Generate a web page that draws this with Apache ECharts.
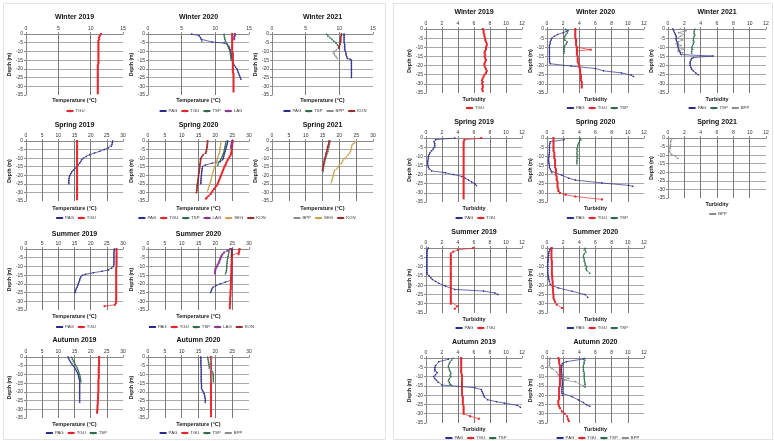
<!DOCTYPE html>
<html><head><meta charset="utf-8">
<script src="https://cdn.jsdelivr.net/npm/echarts@6/dist/echarts.min.js"></script>
<style>html,body{margin:0;padding:0;background:#fff}#c{width:774px;height:441px}</style>
</head><body><div id="c"></div>
<script>
// ===== Temperature data: [value, depth] =====
const tW19_TGU=[[11.6,0],[11.4,-1],[11.3,-2],[11.3,-3],[11.2,-4],[11.2,-5],[11.2,-6],[11.2,-7],[11.2,-8],[11.2,-9],[11.2,-10],[11.2,-11],[11.2,-12],[11.2,-13],[11.2,-14],[11.2,-15],[11.2,-16],[11.2,-17],[11.1,-18],[11.1,-19],[11.1,-20],[11.1,-21],[11.1,-22],[11.1,-23],[11.1,-24],[11.1,-25],[11.1,-26],[11.1,-27],[11.1,-28],[11.1,-29],[11.1,-30],[11.1,-31],[11.1,-32],[11.1,-33],[11.1,-34]];
const tW20_PAG=[[6.5,0],[7.6,-1],[7.8,-2],[7.9,-3],[8.0,-4],[9.5,-4.6],[11.3,-5.2],[11.8,-6],[12.0,-7],[12.1,-8],[12.2,-9],[12.3,-10],[12.3,-11],[12.4,-12],[12.4,-13],[12.5,-14],[12.5,-15],[12.6,-16],[12.7,-17],[12.8,-18],[13.0,-19],[13.2,-20],[13.3,-21],[13.4,-22],[13.5,-23],[13.6,-24],[13.7,-25],[13.8,-26]];
const tW20_TGU=[[12.5,0],[12.5,-1],[12.5,-2],[12.5,-3],[12.5,-4],[12.5,-5],[12.5,-6],[12.5,-7],[12.5,-8],[12.5,-9],[12.5,-10],[12.6,-11],[12.6,-12],[12.6,-13],[12.6,-14],[12.6,-15],[12.6,-16],[12.6,-17],[12.6,-18],[12.6,-19],[12.6,-20],[12.6,-21],[12.6,-22],[12.7,-23],[12.7,-24],[12.7,-25],[12.7,-26],[12.7,-27],[12.7,-28],[12.7,-29],[12.7,-30],[12.7,-31],[12.7,-32],[12.7,-33]];
const tW20_TSP=[[11.3,0],[11.3,-1],[11.4,-2],[11.4,-3],[11.5,-4],[11.7,-5],[11.8,-6],[11.9,-7],[12.0,-8],[12.1,-9],[12.2,-10],[12.2,-11],[12.3,-12],[12.3,-13],[12.3,-14],[12.4,-15]];
const tW20_LAG=[[12.9,0],[12.9,-1],[12.8,-2],[12.8,-3]];
const tW21_PAG=[[10.7,0],[10.7,-1],[10.7,-2],[10.7,-3],[10.7,-4],[10.7,-5],[10.8,-6],[10.8,-7],[10.8,-8],[10.8,-9],[10.9,-10],[11.0,-11],[11.0,-12],[11.1,-13],[11.2,-14],[11.6,-14.5],[11.8,-15],[11.8,-16],[11.8,-17],[11.8,-18],[11.8,-19],[11.8,-20],[11.8,-21],[11.8,-22],[11.8,-23],[11.8,-24],[11.8,-25]];
const tW21_TSP=[[8.1,0],[8.3,-1],[8.6,-2],[8.9,-3],[9.2,-4],[9.5,-5],[9.7,-6],[9.9,-7],[10.0,-8]];
const tW21_BPP=[[9.6,-9],[9.2,-10],[9.1,-11],[9.3,-12],[9.5,-13],[9.7,-14]];
const tW21_KON=[[10.3,0],[10.3,-1],[10.2,-2],[10.2,-3],[10.2,-4],[10.1,-5],[10.1,-6],[10.0,-7],[9.9,-8]];
const tSp19_PAG=[[26.8,0],[26.7,-1],[26.6,-2],[26.4,-3],[25.5,-4],[24.2,-5],[22.8,-6],[21.2,-7],[19.7,-8],[18.6,-9],[17.7,-10],[17.2,-11],[16.9,-12],[16.6,-13],[16.1,-14],[15.6,-15],[15.1,-16],[14.6,-17],[14.2,-18],[13.9,-19],[13.6,-20],[13.4,-21],[13.3,-22],[13.3,-23],[13.2,-24],[13.3,-25]];
const tSp19_TGU=[[15.8,0],[15.8,-1],[15.8,-2],[15.8,-3],[15.8,-4],[15.8,-5],[15.8,-6],[15.8,-7],[15.8,-8],[15.8,-9],[15.8,-10],[15.8,-11],[15.8,-12],[15.8,-13],[15.8,-14],[15.8,-15],[15.8,-16],[15.8,-17],[15.8,-18],[15.8,-19],[15.8,-20],[15.8,-21],[15.8,-22],[15.8,-23],[15.8,-24],[15.8,-25],[15.8,-26],[15.8,-27],[15.8,-28],[15.8,-29],[15.8,-30],[15.8,-31],[15.8,-32],[15.8,-33],[15.8,-34]];
const tSp20_PAG=[[23.7,0],[23.6,-1],[23.5,-2],[23.3,-3],[23.2,-4],[23.1,-5],[22.9,-6],[22.8,-7],[22.6,-8],[22.5,-9],[22.4,-10],[22.2,-11],[21.5,-12],[19.0,-13],[17.0,-14],[16.2,-15],[16.1,-16],[16.0,-17],[16.0,-18],[15.9,-19],[15.9,-20],[15.8,-21],[15.8,-22],[15.7,-23],[15.7,-24],[15.7,-25]];
const tSp20_TGU=[[25.2,0],[25.1,-1],[25.0,-2],[25.0,-3],[24.9,-4],[24.9,-5],[24.8,-6],[24.7,-7],[24.6,-8],[24.3,-9],[24.0,-10],[23.7,-11],[23.4,-12],[23.2,-13],[23.0,-14],[22.7,-15],[22.5,-16],[22.3,-17],[22.1,-18],[21.9,-19],[21.7,-20],[21.5,-21],[21.3,-22],[21.1,-23],[20.9,-24],[20.7,-25],[20.4,-26],[20.0,-27],[19.6,-28],[19.2,-29],[18.9,-30],[18.6,-31],[18.0,-32],[17.5,-33],[17.2,-33.6]];
const tSp20_TSP=[[23.2,0],[23.1,-1],[23.0,-2],[22.9,-3],[22.8,-4],[22.7,-5],[22.6,-6],[22.4,-7],[22.2,-8],[22.0,-9],[21.8,-10],[21.5,-11],[21.2,-12],[20.9,-13],[20.7,-14]];
const tSp20_LAG=[[25.0,0],[24.9,-1],[24.8,-2],[24.7,-3],[24.7,-4]];
const tSp20_SEG=[[21.7,0],[21.6,-1],[21.6,-2],[21.5,-3],[21.4,-4],[21.4,-5],[21.3,-6],[21.2,-7],[21.0,-8],[20.8,-9],[20.6,-10],[20.5,-11],[20.3,-12],[20.2,-13],[20.0,-14],[19.8,-15],[19.6,-16],[19.4,-17],[19.3,-18],[19.2,-19],[19.0,-20],[18.9,-21],[18.8,-22],[18.7,-23],[18.5,-24],[18.4,-25],[18.2,-26],[18.0,-27],[17.9,-28],[17.7,-29]];
const tSp20_KON=[[17.7,0],[17.7,-1],[17.6,-2],[17.6,-3],[17.5,-4],[17.4,-5],[17.3,-6],[17.2,-7],[16.4,-8],[16.0,-9],[15.7,-10],[15.6,-11],[15.6,-12],[15.5,-13],[15.4,-14],[15.4,-15],[15.3,-16],[15.2,-17],[15.2,-18],[15.1,-19],[15.0,-20],[15.0,-21],[14.9,-22],[14.8,-23],[14.8,-24],[14.7,-25],[14.6,-26],[14.6,-27],[14.5,-28],[14.5,-29],[14.4,-30]];
const tSp21_BPP=[[17.3,0],[17.2,-1],[17.1,-2],[17.0,-3],[16.9,-4],[16.8,-5],[16.7,-6],[16.5,-7],[16.3,-8],[16.1,-9],[16.0,-10],[15.8,-11],[15.7,-12],[15.6,-13],[15.4,-14],[15.3,-15],[15.3,-16],[15.2,-17],[15.2,-18]];
const tSp21_SEG=[[25.1,0],[24.5,-1],[24.1,-1.5],[23.8,-2],[23.6,-3],[23.6,-4],[23.5,-5],[23.3,-6],[23.0,-7],[22.6,-8],[22.1,-9],[21.6,-10],[21.1,-11],[20.9,-12],[20.6,-13],[20.0,-14],[19.6,-15],[19.3,-16],[18.6,-17],[18.4,-18],[18.3,-19],[18.2,-20],[18.0,-21],[17.9,-22],[17.8,-23],[17.6,-24]];
const tSp21_KON=[[17.0,0],[16.9,-1],[16.8,-2],[16.6,-3],[16.5,-4],[16.4,-5],[16.3,-6],[16.1,-7],[16.0,-8],[15.9,-9],[15.7,-10],[15.6,-11],[15.5,-12],[15.4,-13],[15.3,-14],[15.2,-15],[15.1,-16],[15.0,-17]];
const tSu19_PAG=[[27.3,0],[27.3,-1],[27.2,-2],[27.2,-3],[27.2,-4],[27.2,-5],[27.2,-6],[27.2,-7],[27.2,-8],[27.2,-9],[27.0,-10],[26.5,-11],[25.5,-12],[23.5,-12.8],[20.8,-13.6],[18.5,-14.5],[17.5,-15],[16.9,-16],[16.7,-17],[16.6,-18],[16.4,-19],[16.2,-20],[16.0,-21],[15.8,-22],[15.5,-23],[15.3,-24],[15.2,-25]];
const tSu19_TGU=[[28.0,0],[28.0,-1],[28.0,-2],[28.0,-3],[28.0,-4],[28.0,-5],[28.0,-6],[28.0,-7],[28.0,-8],[28.0,-9],[28.0,-10],[27.9,-11],[27.9,-12],[27.9,-13],[27.9,-14],[27.9,-15],[27.9,-16],[27.9,-17],[27.9,-18],[27.9,-19],[27.9,-20],[27.9,-21],[27.9,-22],[27.9,-23],[27.9,-24],[27.9,-25],[27.9,-26],[27.9,-27],[27.9,-28],[27.9,-29],[27.9,-30],[27.8,-31],[27.5,-32],[24.3,-32.8]];
const tSu20_PAG=[[24.8,0],[24.8,-1],[24.8,-2],[24.8,-3],[24.8,-4],[24.8,-5],[24.8,-6],[24.8,-7],[24.8,-8],[24.8,-9],[24.8,-10],[24.8,-11],[24.8,-12],[24.8,-13],[24.8,-14],[24.8,-15],[24.8,-16],[24.7,-17],[24.6,-18],[23.0,-19],[21.5,-20],[20.2,-21],[19.3,-22],[19.0,-23],[18.8,-24],[18.6,-25]];
const tSu20_TGU=[[27.2,0],[27.1,-1],[27.0,-2],[26.9,-3],[25.0,-3.6],[24.9,-4],[24.9,-5],[24.9,-6],[24.9,-7],[24.9,-8],[24.8,-9],[24.8,-10],[24.8,-11],[24.8,-12],[24.8,-13],[24.8,-14],[24.7,-15],[24.7,-16],[24.7,-17],[24.7,-18],[24.7,-19],[24.6,-20],[24.6,-21],[24.6,-22],[24.6,-23],[24.5,-24],[24.5,-25],[24.5,-26],[24.5,-27],[24.4,-28],[24.4,-29],[24.4,-30],[24.4,-31],[24.3,-32],[24.3,-33],[24.3,-34]];
const tSu20_TSP=[[24.2,0],[24.1,-1],[24.0,-2],[23.9,-3],[23.8,-4],[23.7,-5],[23.6,-6],[23.5,-7],[23.5,-8],[23.4,-9],[23.4,-10],[23.4,-11],[23.3,-12],[23.3,-13],[23.0,-14]];
const tSu20_LAG=[[24.5,0],[23.6,-1],[22.6,-2],[22.1,-3],[21.8,-4],[21.6,-5],[21.4,-6],[21.2,-7],[21.0,-8],[20.7,-9],[20.5,-10],[20.1,-11],[20.0,-12],[19.9,-13],[19.9,-14]];
const tSu20_KON=[[25.0,0],[25.0,-1],[24.9,-2],[24.9,-3],[24.9,-4]];
const tAu19_PAG=[[13.0,0],[13.2,-1],[13.5,-2],[13.8,-3],[14.2,-4],[14.6,-5],[15.0,-6],[15.3,-7],[15.6,-8],[15.9,-9],[16.1,-10],[16.3,-11],[16.4,-12],[16.5,-13],[16.6,-14],[16.6,-15],[16.6,-16],[16.6,-17],[16.6,-18],[16.6,-19],[16.6,-20],[16.6,-21],[16.6,-22],[16.6,-23],[16.6,-24],[16.6,-25],[16.6,-26]];
const tAu19_TGU=[[22.6,0],[22.6,-1],[22.6,-2],[22.6,-3],[22.6,-4],[22.6,-5],[22.5,-6],[22.5,-7],[22.5,-8],[22.5,-9],[22.5,-10],[22.5,-11],[22.5,-12],[22.4,-13],[22.4,-14],[22.4,-15],[22.4,-16],[22.4,-17],[22.4,-18],[22.4,-19],[22.4,-20],[22.3,-21],[22.3,-22],[22.3,-23],[22.3,-24],[22.2,-25],[22.2,-26],[22.2,-27],[22.1,-28],[22.1,-29],[22.1,-30],[22.0,-31],[22.0,-32]];
const tAu19_TSP=[[14.1,0],[14.3,-1],[14.6,-2],[14.9,-3],[15.2,-4],[15.5,-5],[15.8,-6],[16.0,-7],[16.2,-8],[16.4,-9],[16.6,-10],[16.7,-11],[16.8,-12],[16.9,-13],[17.0,-14]];
const tAu20_PAG=[[15.7,0],[15.7,-1],[15.7,-2],[15.7,-3],[15.7,-4],[15.7,-5],[15.8,-6],[15.8,-7],[15.8,-8],[15.8,-9],[15.8,-10],[15.8,-11],[15.8,-12],[15.8,-13],[15.8,-14],[15.9,-15],[15.9,-16],[15.9,-17],[15.9,-18],[16.1,-19],[16.4,-20],[16.7,-21],[16.8,-22],[16.9,-23],[17.0,-24],[17.0,-25],[17.0,-26]];
const tAu20_TGU=[[18.7,0],[18.7,-1],[18.7,-2],[18.7,-3],[18.7,-4],[18.7,-5],[18.7,-6],[18.7,-7],[18.7,-8],[18.7,-9],[18.7,-10],[18.7,-11],[18.7,-12],[18.7,-13],[18.7,-14],[18.7,-15],[18.7,-16],[18.7,-17],[18.7,-18],[18.7,-19],[18.7,-20],[18.7,-21],[18.7,-22],[18.7,-23],[18.7,-24],[18.7,-25],[18.7,-26],[18.7,-27],[18.7,-28],[18.7,-29],[18.7,-30],[18.7,-31],[18.7,-32],[18.7,-33],[18.7,-34]];
const tAu20_TSP=[[17.7,0],[17.8,-1],[17.9,-2],[18.0,-3],[18.1,-4],[18.2,-5],[18.2,-6],[18.6,-7],[19.0,-8],[19.3,-9],[19.4,-10],[19.4,-11],[19.4,-12],[19.4,-13],[19.4,-14]];
const tAu20_BPP=[[19.0,0],[18.9,-1],[18.7,-2],[18.6,-3],[18.5,-4],[18.4,-5],[18.5,-6],[18.6,-7],[18.8,-8],[19.0,-9],[19.0,-10],[18.9,-11],[18.8,-12],[18.7,-13],[18.7,-14]];

// ===== Turbidity data: [value, depth] =====
const bW19_TGU=[[7.1,0],[7.2,-1],[7.2,-2],[7.3,-3],[7.3,-4],[7.4,-5],[7.4,-6],[7.5,-7],[7.6,-8],[7.6,-9],[7.5,-10],[7.5,-11],[7.4,-12],[7.3,-13],[7.4,-14],[7.3,-15],[7.4,-16],[7.5,-17],[7.4,-18],[7.3,-19],[7.3,-20],[7.4,-21],[7.5,-22],[7.6,-23],[7.5,-24],[7.3,-25],[7.2,-26],[7.1,-27],[7.0,-28],[7.1,-29],[7.0,-30],[7.1,-31],[7.1,-32],[7.0,-33],[7.1,-34]];
const bW20_PAG=[[2.6,-1],[2.0,-2],[1.3,-3],[0.9,-4],[0.6,-5],[0.5,-6],[0.4,-7],[0.4,-8],[0.3,-9],[0.3,-10],[0.3,-11],[0.3,-12],[0.3,-13],[0.3,-14],[0.3,-15],[0.3,-16],[0.3,-17],[0.3,-18],[0.4,-19],[3.0,-20.3],[6.0,-21.6],[7.0,-22.9],[9.2,-24],[10.4,-25.2],[10.7,-26]];
const bW20_TGU=[[3.5,0],[3.5,-1],[3.5,-2],[3.5,-3],[3.5,-4],[3.5,-5],[3.6,-6],[3.6,-7],[3.6,-8],[3.6,-9],[3.7,-10],[3.7,-11],[5.4,-11.3],[3.7,-12],[3.7,-13],[3.7,-14],[3.8,-15],[3.8,-16],[3.8,-17],[3.8,-18],[3.9,-19],[4.0,-20],[4.0,-21],[4.1,-22],[4.1,-23],[4.1,-24],[4.2,-25],[4.2,-26],[4.2,-27],[4.2,-28],[4.3,-29],[4.3,-30],[4.3,-31],[4.3,-32]];
const bW20_TSP=[[2.3,0],[2.4,-1],[2.5,-2],[2.3,-3],[2.2,-4],[2.1,-5],[2.2,-6],[2.5,-7],[2.4,-8],[2.2,-9],[2.1,-10],[2.1,-11],[2.1,-12],[2.1,-13]];
const bW21_PAG=[[0.6,0],[0.7,-1],[0.8,-2],[0.9,-3],[1.0,-4],[1.0,-5],[1.0,-6],[1.1,-7],[1.2,-8],[1.2,-9],[1.2,-10],[1.3,-11],[1.4,-12],[1.5,-13],[1.6,-14],[5.5,-14.8],[3.1,-15.6],[2.9,-16],[2.8,-17],[2.7,-18],[2.7,-19],[2.7,-20],[2.8,-21],[2.9,-22],[3.1,-23],[3.4,-24],[3.7,-25]];
const bW21_TSP=[[3.3,0],[3.2,-1],[3.2,-2],[3.3,-3],[3.2,-4],[3.1,-5],[3.1,-6],[3.2,-7],[3.1,-8],[3.0,-9],[2.9,-10],[3.0,-11],[2.9,-12],[2.9,-13]];
const bW21_BPP=[[1.5,0],[2.2,-1],[1.3,-2],[2.0,-3],[1.5,-4],[1.2,-5],[1.8,-6],[1.3,-7],[1.0,-8],[1.6,-9],[1.1,-10],[2.0,-11],[1.2,-12],[1.8,-13]];
const bSp19_PAG=[[3.6,0],[1.2,-0.9],[1.0,-2],[1.1,-3],[1.1,-4],[1.1,-5],[0.9,-6],[0.7,-7],[0.5,-8],[0.4,-9],[0.3,-10],[0.3,-11],[0.25,-12],[0.2,-13],[0.2,-14],[0.2,-15],[0.3,-16],[0.4,-17],[0.7,-18],[2.4,-19],[3.4,-20],[4.5,-21],[4.9,-22],[5.3,-23],[5.7,-24],[6.1,-25],[6.3,-26]];
const bSp19_TGU=[[6.9,0],[4.8,-1],[4.7,-2],[4.7,-3],[4.7,-4],[4.7,-5],[4.7,-6],[4.7,-7],[4.7,-8],[4.7,-9],[4.7,-10],[4.7,-11],[4.7,-12],[4.7,-13],[4.7,-14],[4.7,-15],[4.7,-16],[4.7,-17],[4.7,-18],[4.7,-19],[4.7,-20],[4.7,-21],[4.7,-22],[4.7,-23],[4.7,-24],[4.7,-25],[4.7,-26],[4.7,-27],[4.7,-28],[4.7,-29],[4.7,-30],[4.7,-31],[4.7,-32],[4.7,-33]];
const bSp20_PAG=[[2.1,-1],[0.4,-2],[0.35,-3],[0.3,-4],[0.3,-5],[0.3,-6],[0.3,-7],[0.3,-8],[0.25,-9],[0.25,-10],[0.2,-11],[0.2,-12],[0.2,-13],[0.25,-14],[0.3,-15],[0.3,-16],[0.4,-17],[0.5,-18],[0.6,-19],[1.8,-20.3],[2.7,-22],[3.5,-23],[6.8,-24.6],[10.1,-25.9],[10.6,-26.4]];
const bSp20_TGU=[[0.8,0],[0.8,-1],[0.8,-2],[0.8,-3],[0.8,-4],[0.8,-5],[0.8,-6],[0.8,-7],[0.9,-8],[0.9,-9],[0.9,-10],[0.9,-11],[1.0,-12],[1.0,-13],[1.0,-14],[1.0,-15],[1.0,-16],[1.1,-17],[1.1,-18],[1.1,-19],[1.1,-20],[1.2,-21],[1.2,-22],[1.2,-23],[1.3,-24],[1.3,-25],[1.3,-26],[1.3,-27],[1.4,-28],[1.4,-29],[1.6,-30],[2.3,-31],[3.5,-32],[6.8,-33.6]];
const bSp20_TSP=[[4.1,0],[4.2,-1],[4.0,-2],[3.9,-3],[3.8,-4],[3.8,-5],[3.7,-6],[3.8,-7],[3.7,-8],[3.8,-9],[3.7,-10],[3.8,-11],[3.7,-12],[3.7,-13],[3.7,-14]];
const bSp21_BPP=[[2.05,0],[0.4,-0.5],[0.35,-2],[0.3,-4],[0.3,-5],[0.25,-6],[0.2,-8],[0.4,-9.5],[0.9,-10.5],[1.2,-12]];
const bSu19_PAG=[[0.3,0],[0.15,-1],[0.12,-2],[0.12,-3],[0.12,-4],[0.12,-5],[0.12,-6],[0.12,-7],[0.12,-8],[0.12,-9],[0.12,-10],[0.12,-11],[0.12,-12],[0.12,-13],[0.12,-14],[0.4,-15],[0.6,-16],[0.8,-17],[1.2,-18],[1.6,-19],[2.4,-20.5],[3.6,-22.3],[7.2,-23.2],[8.6,-24.2],[9.0,-25]];
const bSu19_TGU=[[5.9,0],[4.0,-1],[3.4,-2],[3.1,-3],[3.1,-4],[3.1,-5],[3.1,-6],[3.1,-7],[3.1,-8],[3.1,-9],[3.1,-10],[3.1,-11],[3.1,-12],[3.1,-13],[3.1,-14],[3.1,-15],[3.1,-16],[3.1,-17],[3.1,-18],[3.1,-19],[3.1,-20],[3.1,-21],[3.1,-22],[3.1,-23],[3.1,-24],[3.1,-25],[3.1,-26],[3.1,-27],[3.1,-28],[3.1,-29],[3.1,-30],[3.9,-31.4],[3.6,-32.7]];
const bSu20_PAG=[[0.5,0],[0.35,-1],[0.25,-2],[0.2,-3],[0.2,-4],[0.15,-5],[0.15,-6],[0.15,-7],[0.1,-8],[0.1,-9],[0.1,-10],[0.1,-11],[0.1,-12],[0.1,-13],[0.1,-14],[0.15,-15],[0.2,-16],[0.2,-17],[0.3,-18],[0.4,-19.7],[1.4,-21.5],[3.1,-23.3],[4.7,-25.1],[5.05,-26.5]];
const bSu20_TGU=[[0.6,0],[0.55,-1],[0.55,-2],[0.55,-3],[0.55,-4],[0.55,-5],[0.55,-6],[0.6,-7],[0.6,-8],[0.6,-9],[0.6,-10],[0.6,-11],[0.6,-12],[0.6,-13],[0.6,-14],[0.65,-15],[0.65,-16],[0.65,-17],[0.7,-18],[0.7,-19],[0.7,-20],[0.7,-21],[0.75,-22],[0.75,-23],[0.75,-24],[0.8,-25],[0.8,-26],[0.8,-27],[0.9,-28],[1.0,-29],[1.2,-30.5],[1.85,-32.3]];
const bSu20_TSP=[[4.7,0],[4.6,-1],[4.8,-2],[4.6,-3],[4.5,-4],[4.5,-5],[4.6,-6],[4.6,-7],[4.7,-8],[4.7,-9],[4.9,-10],[4.8,-11],[4.9,-12],[5.3,-13.5]];
const bAu19_PAG=[[2.8,-0.7],[1.6,-2],[1.2,-4],[1.1,-5],[1.1,-6],[1.1,-7],[1.4,-8],[1.2,-9],[0.95,-10],[1.1,-11],[1.3,-12],[1.5,-13],[2.0,-14.6],[4.5,-15.4],[6.1,-16],[6.9,-17],[7.0,-18],[7.1,-19],[7.2,-20],[7.3,-21],[7.7,-22.5],[8.8,-23.5],[9.8,-24.3],[11.4,-25.5],[11.8,-26.5]];
const bAu19_TGU=[[4.4,0],[4.4,-1],[4.4,-2],[4.4,-3],[4.4,-4],[4.4,-5],[4.4,-6],[4.4,-7],[4.4,-8],[4.5,-9],[4.5,-10],[4.5,-11],[4.5,-12],[4.5,-13],[4.5,-14],[4.5,-15],[4.5,-16],[4.5,-17],[4.5,-18],[4.5,-19],[4.5,-20],[4.6,-21],[4.6,-22],[4.6,-23],[4.6,-24],[4.6,-25],[4.7,-26],[4.7,-27],[4.7,-28],[4.7,-29],[4.7,-30],[5.5,-31.3],[6.6,-32.7]];
const bAu19_TSP=[[3.4,0],[3.2,-1],[3.0,-2],[2.9,-3],[2.8,-4],[2.8,-5],[2.9,-6],[3.0,-7],[3.1,-8],[3.0,-9],[3.1,-10],[2.9,-11],[2.8,-12],[2.9,-13],[3.0,-14],[3.2,-14.6]];
const bAu20_PAG=[[4.5,-0.5],[2.4,-2],[1.9,-3],[1.85,-4],[1.8,-5],[1.8,-6],[1.8,-7],[1.8,-8],[1.85,-9],[1.85,-10],[1.85,-11],[1.9,-12],[1.9,-13],[1.9,-14],[1.9,-15],[1.85,-16],[1.85,-17],[1.85,-18],[1.85,-19],[1.9,-20],[3.1,-20.8],[3.9,-22.6],[4.5,-24],[4.9,-25.2],[5.3,-26]];
const bAu20_TGU=[[1.4,0],[1.5,-1],[1.5,-2],[1.5,-3],[1.6,-4],[1.6,-5],[1.6,-6],[1.6,-7],[1.6,-8],[1.6,-9],[1.6,-10],[1.6,-11],[1.6,-12],[1.6,-13],[1.6,-14],[1.6,-15],[1.5,-16],[1.5,-17],[1.5,-18],[1.5,-19],[1.5,-20],[1.5,-21],[1.5,-22],[1.4,-23],[1.4,-24],[1.4,-25],[1.5,-26],[1.6,-27],[1.85,-28.8],[2.2,-30],[2.5,-31.4],[2.6,-33],[2.7,-34]];
const bAu20_TSP=[[4.6,0],[4.7,-1],[4.6,-2],[4.6,-3],[4.5,-4],[4.5,-5],[4.5,-6],[4.5,-7],[4.6,-8],[4.6,-9],[4.6,-10],[4.6,-11],[4.65,-12],[4.65,-13],[4.7,-14],[4.7,-15.5]];
const bAu20_BPP=[[0.4,0],[0.35,-1],[0.3,-2],[0.35,-3],[0.3,-4],[0.6,-5.7],[1.2,-7.5],[1.4,-9.2],[2.7,-11],[2.1,-11.9],[3.5,-12.8],[4.5,-15]];

// ===== Styles =====
const COLORS={PAG:'#2b2b8c',TGU:'#e3262b',TSP:'#2f6b4c',LAG:'#8a3a8e',SEG:'#c9a24e',KON:'#9a2c2c',BPP:'#8c8c8c'};
const SYMBOLS={PAG:'diamond',TGU:'rect',TSP:'triangle',LAG:'rect',SEG:'triangle',KON:'circle',BPP:'diamond'};

const panels=[
 {t:'Winter 2019',l:26,tp:34,w:97,h:61,ty:17,ny:100,ly:111,xmax:15,xi:5,xn:'Temperature (°C)',s:[['TGU',tW19_TGU]],lg:['TGU']},
 {t:'Winter 2020',l:148,tp:34,w:101,h:61,ty:17,ny:100,ly:111,xmax:15,xi:5,xn:'Temperature (°C)',s:[['PAG',tW20_PAG],['TGU',tW20_TGU],['TSP',tW20_TSP],['LAG',tW20_LAG]],lg:['PAG','TGU','TSP','LAG']},
 {t:'Winter 2021',l:272,tp:34,w:101,h:61,ty:17,ny:100,ly:111,xmax:15,xi:5,xn:'Temperature (°C)',s:[['PAG',tW21_PAG],['TSP',tW21_TSP],['BPP',tW21_BPP],['KON',tW21_KON]],lg:['PAG','TSP','BPP','KON']},
 {t:'Spring 2019',l:26,tp:141,w:97,h:60,ty:125,ny:208,ly:218,xmax:30,xi:5,xn:'Temperature (°C)',s:[['PAG',tSp19_PAG],['TGU',tSp19_TGU]],lg:['PAG','TGU']},
 {t:'Spring 2020',l:148,tp:141,w:101,h:60,ty:125,ny:208,ly:218,xmax:30,xi:5,xn:'Temperature (°C)',s:[['PAG',tSp20_PAG],['TGU',tSp20_TGU],['TSP',tSp20_TSP],['LAG',tSp20_LAG],['SEG',tSp20_SEG],['KON',tSp20_KON]],lg:['PAG','TGU','TSP','LAG','SEG','KON']},
 {t:'Spring 2021',l:272,tp:141,w:101,h:60,ty:125,ny:208,ly:218,xmax:30,xi:5,xn:'Temperature (°C)',s:[['BPP',tSp21_BPP],['SEG',tSp21_SEG],['KON',tSp21_KON]],lg:['BPP','SEG','KON']},
 {t:'Summer 2019',l:26,tp:249,w:97,h:61,ty:234,ny:316,ly:327,xmax:30,xi:5,xn:'Temperature (°C)',s:[['PAG',tSu19_PAG],['TGU',tSu19_TGU]],lg:['PAG','TGU']},
 {t:'Summer 2020',l:148,tp:249,w:101,h:61,ty:234,ny:316,ly:327,xmax:30,xi:5,xn:'Temperature (°C)',s:[['PAG',tSu20_PAG],['TGU',tSu20_TGU],['TSP',tSu20_TSP],['LAG',tSu20_LAG],['KON',tSu20_KON]],lg:['PAG','TGU','TSP','LAG','KON']},
 {t:'Autumn 2019',l:26,tp:357,w:97,h:61,ty:340,ny:424,ly:433,xmax:30,xi:5,xn:'Temperature (°C)',s:[['PAG',tAu19_PAG],['TGU',tAu19_TGU],['TSP',tAu19_TSP]],lg:['PAG','TGU','TSP']},
 {t:'Autumn 2020',l:148,tp:357,w:101,h:61,ty:340,ny:424,ly:433,xmax:30,xi:5,xn:'Temperature (°C)',s:[['PAG',tAu20_PAG],['TGU',tAu20_TGU],['TSP',tAu20_TSP],['BPP',tAu20_BPP]],lg:['PAG','TGU','TSP','BPP']},
 {t:'Winter 2019',l:426,tp:29,w:96,h:64,ty:12,ny:99,ly:108,xmax:12,xi:2,xn:'Turbidity',s:[['TGU',bW19_TGU]],lg:['TGU']},
 {t:'Winter 2020',l:547,tp:29,w:97,h:64,ty:12,ny:99,ly:108,xmax:12,xi:2,xn:'Turbidity',s:[['PAG',bW20_PAG],['TGU',bW20_TGU],['TSP',bW20_TSP]],lg:['PAG','TGU','TSP']},
 {t:'Winter 2021',l:668,tp:29,w:98,h:64,ty:12,ny:99,ly:108,xmax:12,xi:2,xn:'Turbidity',s:[['PAG',bW21_PAG],['TSP',bW21_TSP],['BPP',bW21_BPP]],lg:['PAG','TSP','BPP']},
 {t:'Spring 2019',l:426,tp:138,w:96,h:64,ty:122,ny:208,ly:218,xmax:12,xi:2,xn:'Turbidity',s:[['PAG',bSp19_PAG],['TGU',bSp19_TGU]],lg:['PAG','TGU']},
 {t:'Spring 2020',l:547,tp:138,w:97,h:64,ty:122,ny:208,ly:218,xmax:12,xi:2,xn:'Turbidity',s:[['PAG',bSp20_PAG],['TGU',bSp20_TGU],['TSP',bSp20_TSP]],lg:['PAG','TGU','TSP']},
 {t:'Spring 2021',l:668,tp:138,w:98,h:60,ty:122,ny:204,ly:214,xmax:12,xi:2,xn:'Turbidity',s:[['BPP',bSp21_BPP]],lg:['BPP']},
 {t:'Summer 2019',l:426,tp:248,w:96,h:65,ty:232,ny:319,ly:328,xmax:12,xi:2,xn:'Turbidity',s:[['PAG',bSu19_PAG],['TGU',bSu19_TGU]],lg:['PAG','TGU']},
 {t:'Summer 2020',l:547,tp:248,w:97,h:65,ty:232,ny:319,ly:328,xmax:12,xi:2,xn:'Turbidity',s:[['PAG',bSu20_PAG],['TGU',bSu20_TGU],['TSP',bSu20_TSP]],lg:['PAG','TGU','TSP']},
 {t:'Autumn 2019',l:426,tp:358,w:96,h:65,ty:342,ny:429,ly:438,xmax:12,xi:2,xn:'Turbidity',s:[['PAG',bAu19_PAG],['TGU',bAu19_TGU],['TSP',bAu19_TSP]],lg:['PAG','TGU','TSP']},
 {t:'Autumn 2020',l:547,tp:358,w:97,h:65,ty:342,ny:429,ly:438,xmax:12,xi:2,xn:'Turbidity',s:[['PAG',bAu20_PAG],['TGU',bAu20_TGU],['TSP',bAu20_TSP],['BPP',bAu20_BPP]],lg:['PAG','TGU','TSP','BPP']}
];

const FONT='"Liberation Sans", Arial, sans-serif';
const LFS=4.3, IW=7, IH=3, IGAP=3, TPAD=-3;
const mctx=document.createElement('canvas').getContext('2d');
mctx.font=LFS+'px '+FONT;
function legendWidth(names){
  let w=0; names.forEach((n,k)=>{w+=IW+5+TPAD+mctx.measureText(n).width; if(k>0) w+=IGAP;}); return w;
}
const grid=[],xAxis=[],yAxis=[],series=[],legend=[],graphic=[];
graphic.push({type:'rect',shape:{x:3.5,y:3.5,width:382,height:436},style:{fill:'none',stroke:'#e2e2e2',lineWidth:1},silent:true});
graphic.push({type:'rect',shape:{x:393.5,y:3.5,width:379,height:436},style:{fill:'none',stroke:'#e2e2e2',lineWidth:1},silent:true});
panels.forEach((p,i)=>{
  grid.push({left:p.l,top:p.tp,width:p.w,height:p.h});
  xAxis.push({gridIndex:i,type:'value',position:'top',min:0,max:p.xmax,interval:p.xi,
    axisLine:{show:true,onZero:false,lineStyle:{color:'#888',width:1}},
    axisTick:{show:true,length:2,lineStyle:{color:'#888'}},
    axisLabel:{fontSize:5,color:'#333',margin:3,fontFamily:FONT},
    splitLine:{show:true,showMinLine:false,showMaxLine:false,lineStyle:{color:'#777',width:1}}});
  yAxis.push({gridIndex:i,type:'value',min:-35,max:0,interval:5,
    name:'Depth (m)',nameLocation:'middle',nameGap:13,nameRotate:90,
    nameTextStyle:{fontSize:5,fontWeight:'bold',color:'#222',fontFamily:FONT},
    axisLine:{show:true,onZero:false,lineStyle:{color:'#888',width:1}},
    axisTick:{show:true,length:2,lineStyle:{color:'#888'}},
    axisLabel:{fontSize:5,color:'#333',margin:3,fontFamily:FONT},
    splitLine:{show:true,showMinLine:false,showMaxLine:false,lineStyle:{color:'#aaa',width:1}}});
  const cx=p.l+p.w/2;
  graphic.push({type:'text',x:cx,y:p.ty,silent:true,style:{text:p.t,font:'bold 7px '+FONT,fill:'#111',align:'center',verticalAlign:'middle'}});
  graphic.push({type:'text',x:cx,y:p.ny,silent:true,style:{text:p.xn,font:'bold 5.5px '+FONT,fill:'#222',align:'center',verticalAlign:'middle'}});
  const lw=legendWidth(p.lg);
  legend.push({data:p.lg,left:cx-lw/2,top:p.ly-2,itemWidth:IW,itemHeight:IH,itemGap:IGAP,padding:0,
    textStyle:{fontSize:LFS,color:'#333',fontFamily:FONT,padding:[0,0,0,TPAD]},selectedMode:false});
  p.s.forEach(([name,data])=>{
    series.push({type:'line',name,xAxisIndex:i,yAxisIndex:i,data,
      symbol:SYMBOLS[name],symbolSize:2,showSymbol:true,animation:false,
      lineStyle:{width:0.7,color:COLORS[name]},itemStyle:{color:COLORS[name]},
      emphasis:{disabled:true}});
  });
});
const chart=echarts.init(document.getElementById('c'),null,{renderer:'canvas'});
chart.setOption({backgroundColor:'#fff',animation:false,grid,xAxis,yAxis,series,legend,graphic});
</script></body></html>
